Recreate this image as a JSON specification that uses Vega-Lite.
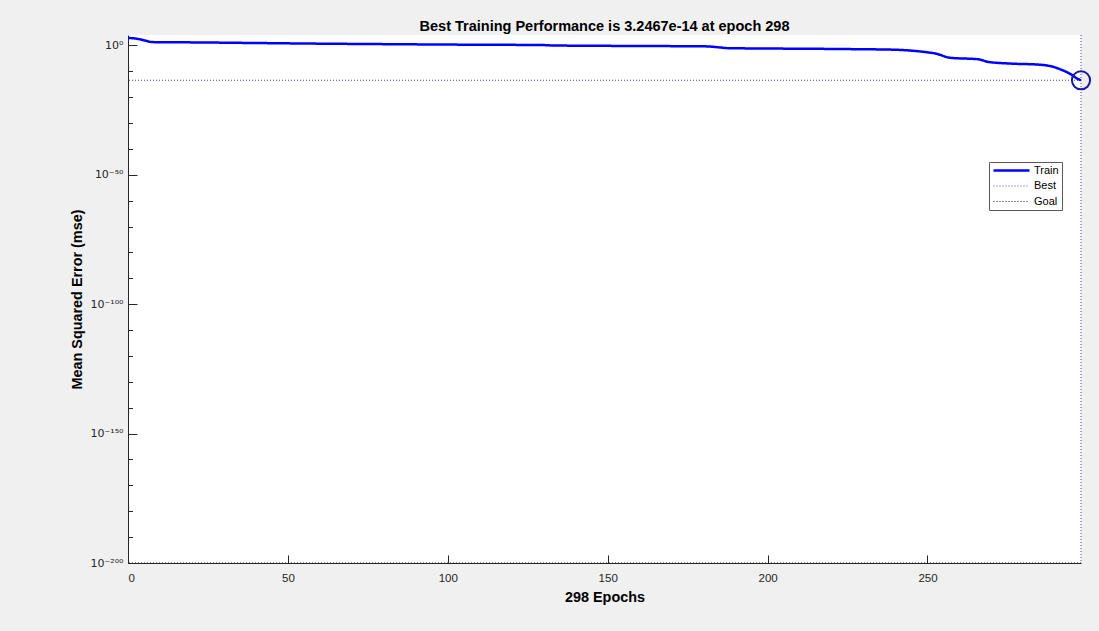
{
  "$schema": "https://vega.github.io/schema/vega-lite/v6.json",
  "width": 953,
  "height": 528,
  "autosize": {"type": "none"},
  "padding": {"left": 128, "top": 35, "right": 18, "bottom": 68},
  "background": "#f0f0f0",
  "view": {"fill": "white", "stroke": null},
  "title": {"text": "Best Training Performance is 3.2467e-14 at epoch 298", "fontSize": 14.5, "fontWeight": "bold", "color": "#000000", "font": "Liberation Sans", "offset": -2, "anchor": "middle"},
  "config": {
    "font": "Liberation Sans",
    "legend": {
      "orient": "none", "legendX": 861, "legendY": 127,
      "symbolType": "M-1,0H8", "symbolSize": 64, "labelOffset": 31,
      "padding": 3, "rowPadding": 3.5, "fillColor": "white", "strokeColor": "#5a5a5a",
      "labelFontSize": 11, "labelColor": "#000000", "labelFont": "Liberation Sans", "symbolStrokeWidth": 1
    }
  },
  "datasets": {
    "train": [
      {"epoch": 0, "mse": 700, "series": "Train"},
      {"epoch": 2, "mse": 480, "series": "Train"},
      {"epoch": 4, "mse": 180, "series": "Train"},
      {"epoch": 6, "mse": 45, "series": "Train"},
      {"epoch": 7, "mse": 22, "series": "Train"},
      {"epoch": 8, "mse": 18, "series": "Train"},
      {"epoch": 10, "mse": 16, "series": "Train"},
      {"epoch": 20, "mse": 14, "series": "Train"},
      {"epoch": 40, "mse": 8, "series": "Train"},
      {"epoch": 60, "mse": 4.5, "series": "Train"},
      {"epoch": 76, "mse": 3.2, "series": "Train"},
      {"epoch": 100, "mse": 2, "series": "Train"},
      {"epoch": 130, "mse": 1.25, "series": "Train"},
      {"epoch": 133, "mse": 0.9, "series": "Train"},
      {"epoch": 151, "mse": 0.63, "series": "Train"},
      {"epoch": 170, "mse": 0.5, "series": "Train"},
      {"epoch": 181, "mse": 0.4, "series": "Train"},
      {"epoch": 185, "mse": 0.16, "series": "Train"},
      {"epoch": 188, "mse": 0.08, "series": "Train"},
      {"epoch": 200, "mse": 0.06, "series": "Train"},
      {"epoch": 226, "mse": 0.035, "series": "Train"},
      {"epoch": 240, "mse": 0.02, "series": "Train"},
      {"epoch": 245, "mse": 0.009, "series": "Train"},
      {"epoch": 248, "mse": 0.004, "series": "Train"},
      {"epoch": 253, "mse": 0.0005, "series": "Train"},
      {"epoch": 257, "mse": 0.000016, "series": "Train"},
      {"epoch": 266, "mse": 0.000004, "series": "Train"},
      {"epoch": 269, "mse": 4e-7, "series": "Train"},
      {"epoch": 276, "mse": 9e-8, "series": "Train"},
      {"epoch": 285, "mse": 3.5e-8, "series": "Train"},
      {"epoch": 289, "mse": 6.3e-9, "series": "Train"},
      {"epoch": 292, "mse": 3.2e-10, "series": "Train"},
      {"epoch": 295, "mse": 5e-12, "series": "Train"},
      {"epoch": 296.5, "mse": 2.5e-13, "series": "Train"},
      {"epoch": 298, "mse": 3.2467e-14, "series": "Train"}
    ],
    "best": [{"epoch": 298, "mse": 3.2467e-14, "series": "Best"}],
    "goal": [{"mse": 1e-200, "series": "Goal"}]
  },
  "layer": [
    {
      "data": {"name": "goal"},
      "mark": {"type": "rule", "strokeWidth": 1},
      "encoding": {
        "y": {"field": "mse", "type": "quantitative", "title": "Mean Squared Error  (mse)", "scale": {"type": "log", "domain": [1e-200, 10000], "nice": false}},
        "color": {"field": "series", "type": "nominal", "title": null, "scale": {"domain": ["Train", "Best", "Goal"], "range": ["#0000ff", "#4646b4", "#1a1a1a"]}},
        "strokeDash": {"field": "series", "type": "nominal", "title": null, "scale": {"domain": ["Train", "Best", "Goal"], "range": [[1, 0], [1, 2], [1, 2]]}}
      }
    },
    {
      "data": {"name": "best"},
      "mark": {"type": "rule", "strokeWidth": 1},
      "encoding": {
        "y": {"field": "mse", "type": "quantitative", "title": "Mean Squared Error  (mse)", "scale": {"type": "log", "domain": [1e-200, 10000], "nice": false}},
        "color": {"field": "series", "type": "nominal", "title": null, "scale": {"domain": ["Train", "Best", "Goal"], "range": ["#0000ff", "#4646b4", "#1a1a1a"]}},
        "strokeDash": {"field": "series", "type": "nominal", "title": null, "scale": {"domain": ["Train", "Best", "Goal"], "range": [[1, 0], [1, 2], [1, 2]]}}
      }
    },
    {
      "data": {"name": "best"},
      "mark": {"type": "rule", "strokeWidth": 1},
      "encoding": {
        "x": {"field": "epoch", "type": "quantitative", "title": "298 Epochs", "scale": {"domain": [0, 298], "nice": false, "zero": false}},
        "color": {"field": "series", "type": "nominal", "title": null, "scale": {"domain": ["Train", "Best", "Goal"], "range": ["#0000ff", "#4646b4", "#1a1a1a"]}},
        "strokeDash": {"field": "series", "type": "nominal", "title": null, "scale": {"domain": ["Train", "Best", "Goal"], "range": [[1, 0], [1, 2], [1, 2]]}}
      }
    },
    {
      "data": {"name": "train"},
      "mark": {"type": "line", "strokeWidth": 2.5, "interpolate": "monotone"},
      "encoding": {
        "x": {"field": "epoch", "type": "quantitative", "title": "298 Epochs",
          "scale": {"domain": [0, 298], "nice": false, "zero": false},
          "axis": {"values": [0, 50, 100, 150, 200, 250], "grid": false, "domainColor": "#262626", "tickColor": "#262626", "tickSize": -8, "labelPadding": 17, "labelColor": "#262626", "labelFontSize": 11.5, "labelFont": "Liberation Sans", "titleFont": "Liberation Sans", "titleFontSize": 14.4, "titleFontWeight": "bold", "titleColor": "#000000", "titlePadding": 7}},
        "y": {"field": "mse", "type": "quantitative", "title": "Mean Squared Error  (mse)",
          "scale": {"type": "log", "domain": [1e-200, 10000], "nice": false},
          "axis": {"values": [1e-200, 1e-190, 1e-180, 1e-170, 1e-160, 1e-150, 1e-140, 1e-130, 1e-120, 1e-110, 1e-100, 1e-90, 1e-80, 1e-70, 1e-60, 1e-50, 1e-40, 1e-30, 1e-20, 1e-10, 1],
            "labelExpr": "round(log(datum.value)/LN10) == 0 ? '10⁰' : round(log(datum.value)/LN10) == -50 ? '10⁻⁵⁰' : round(log(datum.value)/LN10) == -100 ? '10⁻¹⁰⁰' : round(log(datum.value)/LN10) == -150 ? '10⁻¹⁵⁰' : round(log(datum.value)/LN10) == -200 ? '10⁻²⁰⁰' : ''",
            "tickSize": {"condition": {"test": "round(log(datum.value)/LN10) % 50 == 0", "value": -9}, "value": -4.5},
            "grid": false, "domainColor": "#262626", "tickColor": "#262626", "labelPadding": 14, "labelColor": "#262626", "labelFontSize": 11, "labelFont": "DejaVu Sans", "titleFont": "Liberation Sans", "titleFontSize": 14.4, "titleFontWeight": "bold", "titleColor": "#000000", "titlePadding": 5}},
        "color": {"field": "series", "type": "nominal", "title": null, "scale": {"domain": ["Train", "Best", "Goal"], "range": ["#0000ff", "#4646b4", "#1a1a1a"]},
          "legend": {"encode": {"symbols": {"update": {"strokeWidth": {"signal": "datum.value == 'Train' ? 2.5 : 1"}}}}}},
        "strokeDash": {"field": "series", "type": "nominal", "title": null, "scale": {"domain": ["Train", "Best", "Goal"], "range": [[1, 0], [1, 2], [1, 2]]}}
      }
    },
    {
      "data": {"name": "best"},
      "mark": {"type": "point", "shape": "circle", "filled": false, "size": 330, "strokeWidth": 2, "color": "#1a1a9e", "opacity": 1},
      "encoding": {
        "x": {"field": "epoch", "type": "quantitative", "title": "298 Epochs", "scale": {"domain": [0, 298], "nice": false, "zero": false}},
        "y": {"field": "mse", "type": "quantitative", "title": "Mean Squared Error  (mse)", "scale": {"type": "log", "domain": [1e-200, 10000], "nice": false}}
      }
    }
  ]
}
